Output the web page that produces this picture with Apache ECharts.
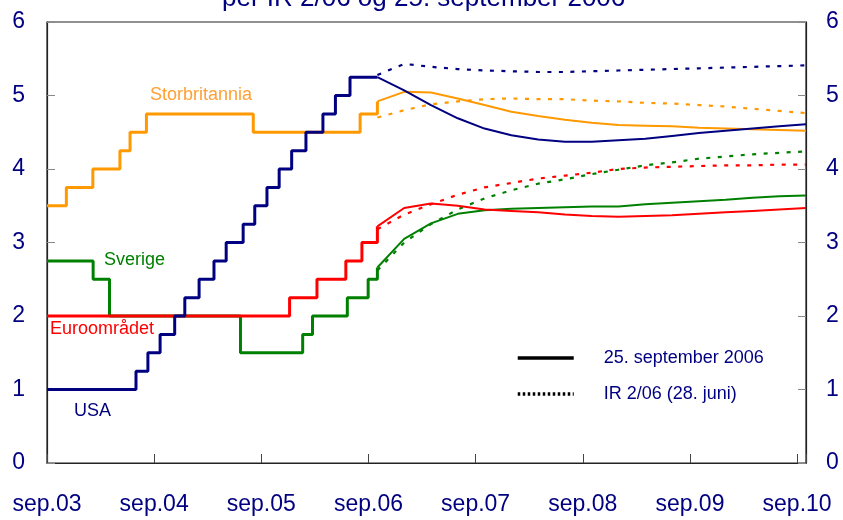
<!DOCTYPE html>
<html>
<head>
<meta charset="utf-8">
<script src="https://cdn.jsdelivr.net/npm/echarts@6/dist/echarts.min.js"></script>
<style>
    html, body {margin: 0; padding: 0; background: #fff;}
    #chart {width: 843px; height: 520px;}
</style>
</head>
<body>
<div id="chart"></div>
<script>
// styringsrenter, historikk (dato for rentevedtak, nivå)
var usaHist = [['2003-09-01', 1.00], ['2004-06-30', 1.25], ['2004-08-10', 1.50], ['2004-09-21', 1.75],
    ['2004-11-10', 2.00], ['2004-12-14', 2.25], ['2005-02-02', 2.50], ['2005-03-22', 2.75],
    ['2005-05-03', 3.00], ['2005-06-30', 3.25], ['2005-08-09', 3.50], ['2005-09-20', 3.75],
    ['2005-11-01', 4.00], ['2005-12-13', 4.25], ['2006-01-31', 4.50], ['2006-03-28', 4.75],
    ['2006-05-10', 5.00], ['2006-06-29', 5.25], ['2006-10-01', 5.25]];
var ukHist = [['2003-09-01', 3.50], ['2003-11-06', 3.75], ['2004-02-05', 4.00], ['2004-05-06', 4.25],
    ['2004-06-10', 4.50], ['2004-08-05', 4.75], ['2005-08-04', 4.50], ['2006-08-03', 4.75],
    ['2006-10-01', 4.92]];
var euroHist = [['2003-09-01', 2.00], ['2005-12-06', 2.25], ['2006-03-08', 2.50], ['2006-06-15', 2.75],
    ['2006-08-09', 3.00], ['2006-10-01', 3.22]];
var sweHist = [['2003-09-01', 2.75], ['2004-02-06', 2.50], ['2004-04-01', 2.00], ['2005-06-21', 1.50],
    ['2006-01-20', 1.75], ['2006-02-23', 2.00], ['2006-06-20', 2.25], ['2006-08-30', 2.50],
    ['2006-10-01', 2.66]];

// terminrenter, kvartalsvis
var forecastDates = ['2006-10-01', '2007-01-01', '2007-04-01', '2007-07-01', '2007-10-01',
    '2008-01-01', '2008-04-01', '2008-07-01', '2008-10-01', '2009-01-01', '2009-04-01',
    '2009-07-01', '2009-10-01', '2010-01-01', '2010-04-01', '2010-07-01', '2010-10-01'];
// 25. september 2006
var usaSep = [5.25, 5.07, 4.87, 4.69, 4.55, 4.46, 4.40, 4.37, 4.37, 4.39, 4.41, 4.45, 4.49, 4.52, 4.55, 4.58, 4.61];
var ukSep = [4.92, 5.05, 5.04, 4.96, 4.87, 4.78, 4.72, 4.67, 4.63, 4.60, 4.59, 4.58, 4.56, 4.55, 4.54, 4.53, 4.52];
var euroSep = [3.22, 3.47, 3.53, 3.50, 3.45, 3.43, 3.41, 3.38, 3.36, 3.35, 3.36, 3.37, 3.39, 3.41, 3.43, 3.45, 3.47];
var sweSep = [2.66, 3.05, 3.26, 3.39, 3.44, 3.46, 3.47, 3.48, 3.49, 3.49, 3.52, 3.54, 3.56, 3.58, 3.61, 3.63, 3.64];
// IR 2/06 (28. juni)
var usaIR = [5.28, 5.43, 5.39, 5.36, 5.34, 5.33, 5.32, 5.32, 5.33, 5.34, 5.35, 5.36, 5.37, 5.38, 5.39, 5.40, 5.41];
var ukIR = [4.70, 4.80, 4.88, 4.92, 4.95, 4.96, 4.95, 4.95, 4.93, 4.92, 4.90, 4.89, 4.87, 4.85, 4.82, 4.79, 4.76];
var euroIR = [3.18, 3.38, 3.52, 3.65, 3.75, 3.81, 3.87, 3.91, 3.95, 4.00, 4.02, 4.03, 4.04, 4.05, 4.05, 4.06, 4.06];
var sweIR = [2.62, 3.00, 3.25, 3.45, 3.60, 3.71, 3.80, 3.86, 3.93, 3.99, 4.05, 4.09, 4.14, 4.17, 4.20, 4.22, 4.24];

var yTicks = [0, 1, 2, 3, 4, 5, 6];
var xTickLabels = ['sep.03', 'sep.04', 'sep.05', 'sep.06', 'sep.07', 'sep.08', 'sep.09', 'sep.10'];

var NAVY = '#000080', ORANGE = '#FF9900', RED = '#FF0000', GREEN = '#008000';
var FONT = 'Liberation Sans, Arial, sans-serif';

// maaneder etter 1. sep 2003
function toMonth(d) {
    var p = d.split('-');
    return (+p[0] - 2003) * 12 + (+p[1] - 9) + (+p[2] - 1) / 30;
}

function hist(list) {
    return list.map(function (item) {
        return [toMonth(item[0]), item[1]];
    });
}

function fc(values) {
    return values.map(function (v, i) {
        return [toMonth(forecastDates[i]), v];
    });
}

function histSeries(data, color) {
    return {type: 'line', step: 'end', data: hist(data), symbol: 'none', silent: true,
        lineStyle: {color: color, width: 3}};
}

function fcSeries(data, color, dotted) {
    return {type: 'line', data: fc(data), symbol: 'none', silent: true,
        lineStyle: dotted ? {color: color, width: 2.2, type: [4, 7.5]} : {color: color, width: 2}};
}

var myChart = echarts.init(document.getElementById('chart'));

var option = {
    animation: false,
    title: {
        text: 'per IR 2/06 og 25. september 2006',
        left: 222, top: -14, padding: 0,
        textStyle: {color: NAVY, fontFamily: FONT, fontSize: 26, fontWeight: 'normal'}
    },
    grid: {left: 47, right: 37, top: 22, bottom: 57, show: true, borderColor: '#222', borderWidth: 1.2},
    legend: {
        orient: 'vertical', left: 511, top: 344, itemWidth: 56, itemHeight: 14, itemGap: 18,
        data: ['25. september 2006', 'IR 2/06 (28. juni)'],
        itemStyle: {opacity: 0},
        lineStyle: {width: 3.5},
        textStyle: {color: NAVY, fontFamily: FONT, fontSize: 18, padding: [0, 0, 0, 25]}
    },
    xAxis: {
        type: 'value', min: 0, max: 85, interval: 12,
        axisLine: {show: true, lineStyle: {color: '#222', width: 1.2}},
        axisTick: {show: true, inside: true, length: 9, lineStyle: {color: '#444'}},
        splitLine: {show: false},
        axisLabel: {
            color: NAVY, fontFamily: FONT, fontSize: 23, margin: 30,
            formatter: function (v) {
                return v % 12 === 0 ? xTickLabels[v / 12] : '';
            }
        }
    },
    yAxis: [
        {
            type: 'value', min: yTicks[0], max: yTicks[yTicks.length - 1], interval: 1, position: 'left',
            axisLine: {show: true, lineStyle: {color: '#222', width: 1.2}},
            axisTick: {show: true, inside: true, length: 8, lineStyle: {color: '#888'}},
            splitLine: {show: false},
            axisLabel: {color: NAVY, fontFamily: FONT, fontSize: 23, margin: 22}
        },
        {
            type: 'value', min: yTicks[0], max: yTicks[yTicks.length - 1], interval: 1, position: 'right',
            axisLine: {show: true, lineStyle: {color: '#222', width: 1.2}},
            axisTick: {show: true, inside: true, length: 8, lineStyle: {color: '#888'}},
            splitLine: {show: false},
            axisLabel: {color: NAVY, fontFamily: FONT, fontSize: 23, margin: 20}
        }
    ],
    series: [
        fcSeries(sweIR, GREEN, true),
        fcSeries(euroIR, RED, true),
        fcSeries(ukIR, ORANGE, true),
        fcSeries(usaIR, NAVY, true),
        histSeries(sweHist, GREEN),
        histSeries(euroHist, RED),
        histSeries(ukHist, ORANGE),
        histSeries(usaHist, NAVY),
        fcSeries(sweSep, GREEN, false),
        fcSeries(euroSep, RED, false),
        fcSeries(ukSep, ORANGE, false),
        fcSeries(usaSep, NAVY, false),
        {name: '25. september 2006', type: 'line', data: [], symbol: 'none',
            itemStyle: {color: '#000'}, lineStyle: {color: '#000', width: 3.5}},
        {name: 'IR 2/06 (28. juni)', type: 'line', data: [], symbol: 'none',
            itemStyle: {color: '#000'}, lineStyle: {color: '#000', width: 3.5, type: [2.5, 2.5]}}
    ],
    graphic: [
        {type: 'text', left: 150, top: 86, style: {text: 'Storbritannia', fill: '#FFA033', font: '18px ' + FONT}},
        {type: 'text', left: 104, top: 251, style: {text: 'Sverige', fill: GREEN, font: '18px ' + FONT}},
        {type: 'text', left: 50, top: 320, style: {text: 'Euroområdet', fill: RED, font: '18px ' + FONT}},
        {type: 'text', left: 74, top: 402, style: {text: 'USA', fill: NAVY, font: '18px ' + FONT}}
    ]
};

myChart.setOption(option);
</script>
</body>
</html>
